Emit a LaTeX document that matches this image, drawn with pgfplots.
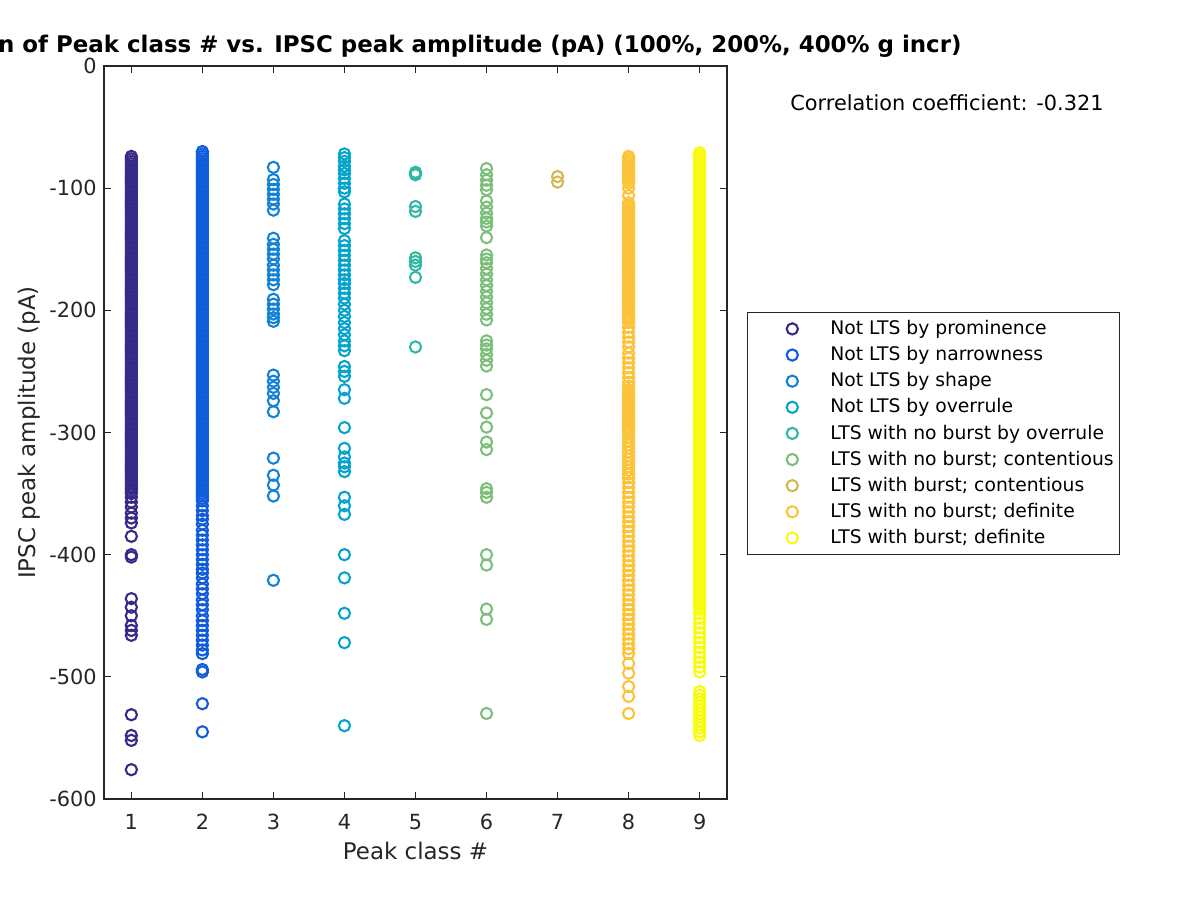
\documentclass[border=0pt]{standalone}
\usepackage{fontspec}
\setmainfont{DejaVu Sans}
\usepackage{pgfplots}
\usepackage{pgfplotstable}
\pgfplotsset{compat=1.18}
\definecolor{axgray}{RGB}{38,38,38}
\definecolor{c1}{RGB}{53,42,135}
\definecolor{c2}{RGB}{15,92,221}
\definecolor{c3}{RGB}{20,130,212}
\definecolor{c4}{RGB}{6,164,202}
\definecolor{c5}{RGB}{50,184,160}
\definecolor{c6}{RGB}{124,191,123}
\definecolor{c7}{RGB}{209,184,84}
\definecolor{c8}{RGB}{253,195,56}
\definecolor{c9}{RGB}{249,251,14}

\pgfplotstableread[row sep=\\]{y\\
-74\\-76\\-78\\-80\\-82\\-84\\-86\\-88\\-90\\-92\\-94\\-96\\-98\\
-100\\-102\\-104\\-106\\-108\\-110\\-112\\-114\\-116\\-118\\-120\\-122\\-124\\-126\\-128\\-130\\-132\\-134\\-136\\-138\\-140\\-142\\-144\\-146\\-148\\-150\\-152\\-154\\-156\\-158\\-160\\-162\\-164\\-166\\-168\\-170\\-172\\-174\\-176\\-178\\-180\\-182\\-184\\-186\\-188\\-190\\-192\\-194\\-196\\-198\\
-200\\-202\\-204\\-206\\-208\\-210\\-212\\-214\\-216\\-218\\-220\\-222\\-224\\-226\\-228\\-230\\-232\\-234\\-236\\-238\\-240\\-242\\-244\\-246\\-248\\-250\\-252\\-254\\-256\\-258\\-260\\-262\\-264\\-266\\-268\\-270\\-272\\-274\\-276\\-278\\-280\\-282\\-284\\-286\\-288\\-290\\-292\\-294\\-296\\-298\\
-300\\-302\\-304\\-306\\-308\\-310\\-312\\-314\\-316\\-318\\-320\\-322\\-324\\-326\\-328\\-330\\-332\\-334\\-336\\-338\\-340\\-342\\-344\\-346\\-348\\-350\\
-353\\-357\\-361\\-366\\-370\\-374\\-385\\-400\\-402\\-436\\-443\\-450\\-458\\-462\\-466\\-531\\-548\\-552\\-576\\
}\tA

\pgfplotstableread[row sep=\\]{y\\
-70\\-72\\-74\\-76\\-78\\-80\\-82\\-84\\-86\\-88\\-90\\-92\\-94\\-96\\-98\\
-100\\-102\\-104\\-106\\-108\\-110\\-112\\-114\\-116\\-118\\-120\\-122\\-124\\-126\\-128\\-130\\-132\\-134\\-136\\-138\\-140\\-142\\-144\\-146\\-148\\-150\\-152\\-154\\-156\\-158\\-160\\-162\\-164\\-166\\-168\\-170\\-172\\-174\\-176\\-178\\-180\\-182\\-184\\-186\\-188\\-190\\-192\\-194\\-196\\-198\\
-200\\-202\\-204\\-206\\-208\\-210\\-212\\-214\\-216\\-218\\-220\\-222\\-224\\-226\\-228\\-230\\-232\\-234\\-236\\-238\\-240\\-242\\-244\\-246\\-248\\-250\\-252\\-254\\-256\\-258\\-260\\-262\\-264\\-266\\-268\\-270\\-272\\-274\\-276\\-278\\-280\\-282\\-284\\-286\\-288\\-290\\-292\\-294\\-296\\-298\\
-300\\-302\\-304\\-306\\-308\\-310\\-312\\-314\\-316\\-318\\-320\\-322\\-324\\-326\\-328\\-330\\-332\\-334\\-336\\-338\\-340\\-342\\-344\\-346\\-348\\-350\\-352\\-354\\-356\\
-360\\-364\\-368\\-371\\-375\\-380\\-384\\-388\\-392\\-396\\-400\\-404\\-408\\-412\\-415\\-419\\-424\\-428\\-432\\-437\\-441\\-445\\-450\\-454\\-458\\-462\\-466\\-470\\-474\\-478\\-481\\-494\\-496\\-522\\-545\\
}\tB

\pgfplotstableread[row sep=\\]{y\\
-83\\-93\\-97\\-101\\-105\\-109\\-113\\-118\\-141\\-146\\-150\\-154\\-158\\-163\\-167\\-171\\-175\\-179\\-191\\-195\\-199\\-203\\-206\\-209\\-253\\-258\\-263\\-268\\-274\\-283\\-321\\-335\\-343\\-352\\-421\\
}\tC

\pgfplotstableread[row sep=\\]{y\\
-72\\-75\\-78\\-82\\-85\\-88\\-92\\-96\\-100\\-103\\-113\\-117\\-121\\-125\\-129\\-133\\-143\\-147\\-151\\-155\\-159\\-163\\-167\\-171\\-175\\-178\\-182\\-186\\-190\\-195\\-200\\-205\\-210\\-215\\-220\\-225\\-229\\-233\\-246\\-250\\-254\\-265\\-272\\-296\\-313\\-320\\-325\\-328\\-332\\-353\\-360\\-367\\-400\\-419\\-448\\-472\\-540\\
}\tD

\pgfplotstableread[row sep=\\]{y\\
-87\\-88\\-89\\-115\\-119\\-157\\-160\\-163\\-173\\-230\\
}\tE

\pgfplotstableread[row sep=\\]{y\\
-84\\-89\\-93.5\\-97.6\\-101.3\\-110.5\\-115.5\\-120.4\\-124.8\\-127.7\\-131\\-140.5\\-154.7\\-158\\-161\\-165.7\\-170.3\\-175.1\\-179.7\\-184.4\\-189\\-193.8\\-198.5\\-203.2\\-207.9\\-225\\-228.4\\-231.5\\-236.2\\-240.9\\-245.6\\-269\\-284\\-295.6\\-307.8\\-314\\-346\\-349\\-353\\-400\\-408.5\\-444.5\\-453\\-530\\
}\tF

\pgfplotstableread[row sep=\\]{y\\
-90.5\\-95\\
}\tG

\pgfplotstableread[row sep=\\]{y\\
-74\\-76\\-78\\-80\\-82\\-84\\-86\\-88\\-90\\-92\\-94\\-96\\-100\\-106\\-112\\
-114\\-116\\-118\\-120\\-122\\-124\\-126\\-128\\-130\\-132\\-134\\-136\\-138\\-140\\-142\\-144\\-146\\-148\\-150\\-152\\-154\\-156\\-158\\-160\\-162\\-164\\-166\\-168\\-170\\-172\\-174\\-176\\-178\\-180\\-182\\-184\\-186\\-188\\-190\\-192\\-194\\-196\\-198\\-200\\-202\\-204\\-206\\-208\\-210\\
-214\\-218\\-222\\-226\\-230\\-235\\-239\\-243\\-247\\-251\\-255\\-259\\-262\\
-265\\-267\\-269\\-271\\-273\\-275\\-277\\-279\\-281\\-283\\-285\\-287\\-289\\-291\\-293\\-295\\-297\\-299\\-301\\
-304\\-307\\-310\\-313\\-316\\-319\\-322\\-325\\-328\\-331\\-334\\-337\\-341\\-345\\-349\\-353\\-357\\-361\\-365\\-369\\-373\\-377\\-381\\-385\\-389\\-393\\-397\\-401\\-405\\-409\\-413\\-417\\-421\\-425\\-429\\-433\\-437\\-441\\-445\\-449\\-453\\-457\\-461\\-465\\-469\\-473\\-477\\-481\\-489\\-497\\-508\\-516\\-530\\
}\tH

\pgfplotstableread[row sep=\\]{y\\
-71\\-73\\-75\\-77\\-79\\-81\\-83\\-85\\-87\\-89\\-91\\-93\\-95\\-97\\-99\\
-101\\-103\\-105\\-107\\-109\\-111\\-113\\-115\\-117\\-119\\-121\\-123\\-125\\-127\\-129\\-131\\-133\\-135\\-137\\-139\\-141\\-143\\-145\\-147\\-149\\-151\\-153\\-155\\-157\\-159\\-161\\-163\\-165\\-167\\-169\\-171\\-173\\-175\\-177\\-179\\-181\\-183\\-185\\-187\\-189\\-191\\-193\\-195\\-197\\-199\\
-201\\-203\\-205\\-207\\-209\\-211\\-213\\-215\\-217\\-219\\-221\\-223\\-225\\-227\\-229\\-231\\-233\\-235\\-237\\-239\\-241\\-243\\-245\\-247\\-249\\-251\\-253\\-255\\-257\\-259\\-261\\-263\\-265\\-267\\-269\\-271\\-273\\-275\\-277\\-279\\-281\\-283\\-285\\-287\\-289\\-291\\-293\\-295\\-297\\-299\\
-301\\-303\\-305\\-307\\-309\\-311\\-313\\-315\\-317\\-319\\-321\\-323\\-325\\-327\\-329\\-331\\-333\\-335\\-337\\-339\\-341\\-343\\-345\\-347\\-349\\-351\\-353\\-355\\-357\\-359\\-361\\-363\\-365\\-367\\-369\\-371\\-373\\-375\\-377\\-379\\-381\\-383\\-385\\-387\\-389\\-391\\-393\\-395\\-397\\-399\\
-401\\-403\\-405\\-407\\-409\\-411\\-413\\-415\\-417\\-419\\-421\\-423\\-425\\-427\\-429\\-431\\-433\\-435\\-437\\-439\\-441\\-443\\-445\\
-448\\-452\\-456\\-460\\-464\\-468\\-472\\-476\\-480\\-484\\-488\\-492\\-496\\
-512\\-515\\-518\\-521\\-524\\-527\\-530\\-533\\-536\\-539\\-542\\-545\\-548\\
}\tI

\begin{document}
\begin{tikzpicture}
\useasboundingbox (0,0) rectangle (576pt,432pt);
\begin{axis}[
  at={(49.92pt,48.48pt)}, anchor=south west,
  scale only axis, width=299.04pt, height=351.84pt,
  xmin=0.615, xmax=9.385, ymin=-600, ymax=0,
  xtick={1,2,3,4,5,6,7,8,9}, ytick={-600,-500,-400,-300,-200,-100,0},
  tick align=inside, major tick length=3.5pt,
  axis line style={axgray, line width=0.5pt},
  tick style={axgray, line width=0.5pt},
  ticklabel style={font=\fontsize{10}{12}\selectfont, text=axgray},
  /pgf/number format/assume math mode=true,
  xticklabel style={yshift=-3.6pt},
  xlabel={Peak class \#}, ylabel={IPSC peak amplitude (pA)},
  label style={font=\fontsize{11}{13}\selectfont, text=axgray},
  xlabel style={at={(axis description cs:0.5,-0.0713)}, anchor=center},
  ylabel style={at={(axis description cs:-0.1196,0.5)}, anchor=center},
  title={Correlation of Peak class \# vs. IPSC peak amplitude (pA) (100\%, 200\%, 400\% g incr)},
  title style={font=\bfseries\fontsize{11}{13}\selectfont, at={(axis description cs:0.5,1)}, anchor=base, yshift=0.5pt, text=black},
  legend cell align=left,
  legend style={at={(axis description cs:1.0321,0.6644)}, anchor=north west,
    draw=axgray, line width=0.5pt, inner xsep=3pt, inner ysep=1.6pt,
    row sep=0pt, font=\fontsize{9}{11}\selectfont, text=black,
    nodes={inner sep=0pt, text height=9pt, text depth=3.54pt}},
  legend image code/.code={\path (-18pt,0pt) (17.8pt,0pt); \draw[#1] plot coordinates {(0pt,0pt)};},
  every axis plot/.append style={only marks, mark=o, mark size=2.7pt, line width=1pt},
]
\addplot[c1] table[x expr=1, y=y] {\tA};
\addlegendentry{Not LTS by prominence}
\addplot[c2] table[x expr=2, y=y] {\tB};
\addlegendentry{Not LTS by narrowness}
\addplot[c3] table[x expr=3, y=y] {\tC};
\addlegendentry{Not LTS by shape}
\addplot[c4] table[x expr=4, y=y] {\tD};
\addlegendentry{Not LTS by overrule}
\addplot[c5] table[x expr=5, y=y] {\tE};
\addlegendentry{LTS with no burst by overrule}
\addplot[c6] table[x expr=6, y=y] {\tF};
\addlegendentry{LTS with no burst; contentious}
\addplot[c7] table[x expr=7, y=y] {\tG};
\addlegendentry{LTS with burst; contentious}
\addplot[c8] table[x expr=8, y=y] {\tH};
\addlegendentry{LTS with no burst; definite}
\addplot[c9] table[x expr=9, y=y] {\tI};
\addlegendentry{LTS with burst; definite}
\end{axis}
\node[anchor=base west, inner sep=0pt, font=\fontsize{10}{12}\selectfont, text=black] at (379.2pt,378.9pt) {Correlation coefficient: -0.321};
\end{tikzpicture}
\end{document}
